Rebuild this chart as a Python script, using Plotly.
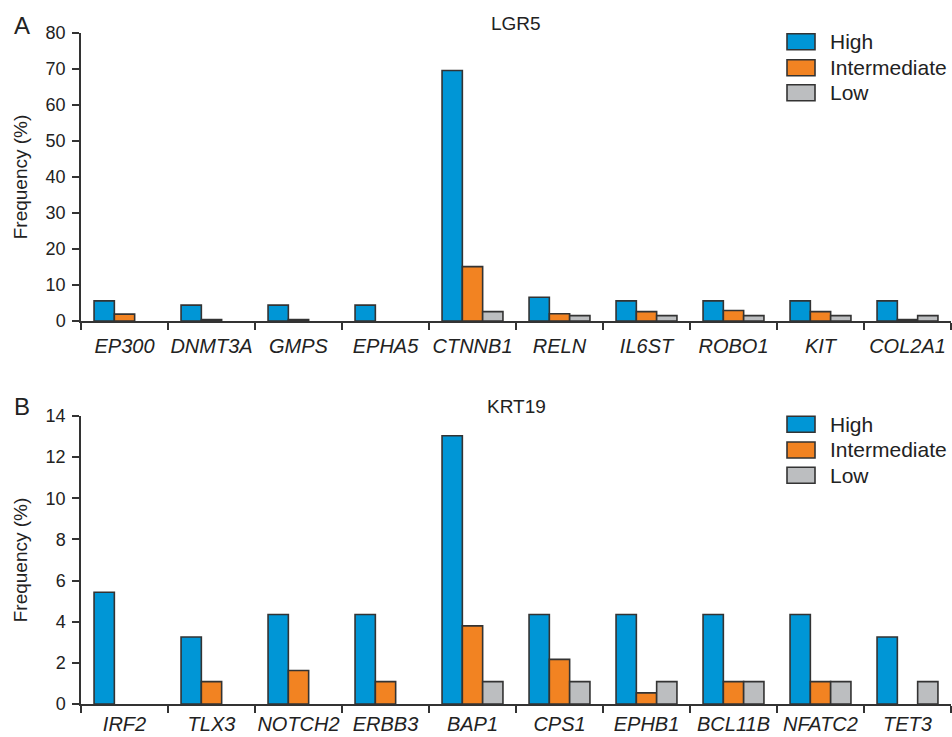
import plotly.graph_objects as go

# ---------------- data ----------------
genes_a = ["EP300", "DNMT3A", "GMPS", "EPHA5", "CTNNB1", "RELN", "IL6ST", "ROBO1", "KIT", "COL2A1"]
high_a = [5.6, 4.4, 4.4, 4.4, 69.6, 6.6, 5.6, 5.6, 5.6, 5.6]
inter_a = [1.9, 0.4, 0.4, 0, 15.1, 2.0, 2.6, 2.9, 2.6, 0.4]
low_a = [0, 0, 0, 0, 2.6, 1.5, 1.5, 1.5, 1.5, 1.5]

genes_b = ["IRF2", "TLX3", "NOTCH2", "ERBB3", "BAP1", "CPS1", "EPHB1", "BCL11B", "NFATC2", "TET3"]
high_b = [5.43, 3.26, 4.35, 4.35, 13.04, 4.35, 4.35, 4.35, 4.35, 3.26]
inter_b = [0, 1.09, 1.63, 1.09, 3.80, 2.17, 0.54, 1.09, 1.09, 0]
low_b = [0, 0, 0, 0, 1.09, 1.09, 1.09, 1.09, 1.09, 1.09]

series_names = ["High", "Intermediate", "Low"]
colors = ["#0096D6", "#F28322", "#BCBEC0"]
panel_titles = ["LGR5", "KRT19"]
panel_letters = ["A", "B"]
y_ticks_a = [0, 10, 20, 30, 40, 50, 60, 70, 80]
y_ticks_b = [0, 2, 4, 6, 8, 10, 12, 14]

# ---------------- layout geometry ----------------
W, H = 952, 737
ML, MR, MT, MB = 81, 1, 33, 33
PW, PH = W - ML - MR, H - MT - MB
EDGE = "#333333"
FONT = "Liberation Sans, Arial, Helvetica, sans-serif"


def px(x):
    # page pixel -> paper x
    return (x - ML) / PW


def py(y):
    # page pixel -> paper y
    return (H - MB - y) / PH


fig = go.Figure()

panels = [
    (genes_a, [high_a, inter_a, low_a], "x", "y"),
    (genes_b, [high_b, inter_b, low_b], "x2", "y2"),
]
for pi, (genes, vals, xa, ya) in enumerate(panels):
    for si, name in enumerate(series_names):
        # zero values are drawn as no bar at all
        yv = [v if v > 0 else None for v in vals[si]]
        fig.add_trace(go.Bar(
            x=genes, y=yv, name=name, xaxis=xa, yaxis=ya,
            marker=dict(color=colors[si], line=dict(color=EDGE, width=1.6)),
            showlegend=False,
        ))

axis_common = dict(
    showline=True, linecolor=EDGE, linewidth=1.5, ticks="outside", ticklen=7,
    tickwidth=1.5, tickcolor=EDGE, showgrid=False, zeroline=False, automargin=False,
)
xfont = dict(family=FONT, size=20, color="#222222", style="italic")
yfont = dict(family=FONT, size=18, color="#222222")
ytitle = dict(text="Frequency (%)", font=dict(family=FONT, size=19, color="#222222"), standoff=13)

fig.update_layout(
    width=W, height=H,
    margin=dict(l=ML, r=MR, t=MT, b=MB),
    paper_bgcolor="white", plot_bgcolor="white",
    barmode="group", bargap=0.3, bargroupgap=0,
    showlegend=False,
    font=dict(family=FONT, color="#222222"),
    xaxis=dict(domain=[0, 1], anchor="y", tickson="boundaries", tickangle=0,
               tickfont=xfont, ticklabelstandoff=6, **axis_common),
    yaxis=dict(domain=[py(321), 1], anchor="x", range=[0, 80], tickvals=y_ticks_a,
               tickfont=yfont, ticklabelstandoff=3, title=ytitle, **axis_common),
    xaxis2=dict(domain=[0, 1], anchor="y2", tickson="boundaries", tickangle=0,
                tickfont=xfont, ticklabelstandoff=1, **axis_common),
    yaxis2=dict(domain=[0, py(416)], anchor="x2", range=[0, 14], tickvals=y_ticks_b,
                tickfont=yfont, ticklabelstandoff=3, title=ytitle, **axis_common),
)

# panel letters and titles
annots = []
for letter, title, ly, ty in [("A", "LGR5", 25, 23), ("B", "KRT19", 406, 406)]:
    annots.append(dict(text=letter, x=px(22), y=py(ly), xref="paper", yref="paper",
                       showarrow=False, font=dict(family=FONT, size=24, color="#222222"),
                       xanchor="center", yanchor="middle"))
    annots.append(dict(text=title, x=px(516), y=py(ty), xref="paper", yref="paper",
                       showarrow=False, font=dict(family=FONT, size=19, color="#222222"),
                       xanchor="center", yanchor="middle"))

# custom legends (one per panel)
shapes = []
for rows in ([41.7, 67.7, 92.7], [424.3, 450.0, 475.3]):
    for si, yc in enumerate(rows):
        shapes.append(dict(type="rect", xref="paper", yref="paper",
                           x0=px(787), x1=px(815), y0=py(yc - 8), y1=py(yc + 8),
                           fillcolor=colors[si], line=dict(color=EDGE, width=1.6)))
        annots.append(dict(text=series_names[si], x=px(828), y=py(yc), xref="paper", yref="paper",
                           showarrow=False, xanchor="left", yanchor="middle",
                           font=dict(family=FONT, size=21, color="#222222")))

fig.update_layout(annotations=annots, shapes=shapes)

# remove the default page margin so the figure fills the 952x737 window exactly
fig.write_html(
    "out.html",
    config={"displayModeBar": False},
    post_script="document.body.style.margin='0';document.body.style.overflow='hidden';",
)
